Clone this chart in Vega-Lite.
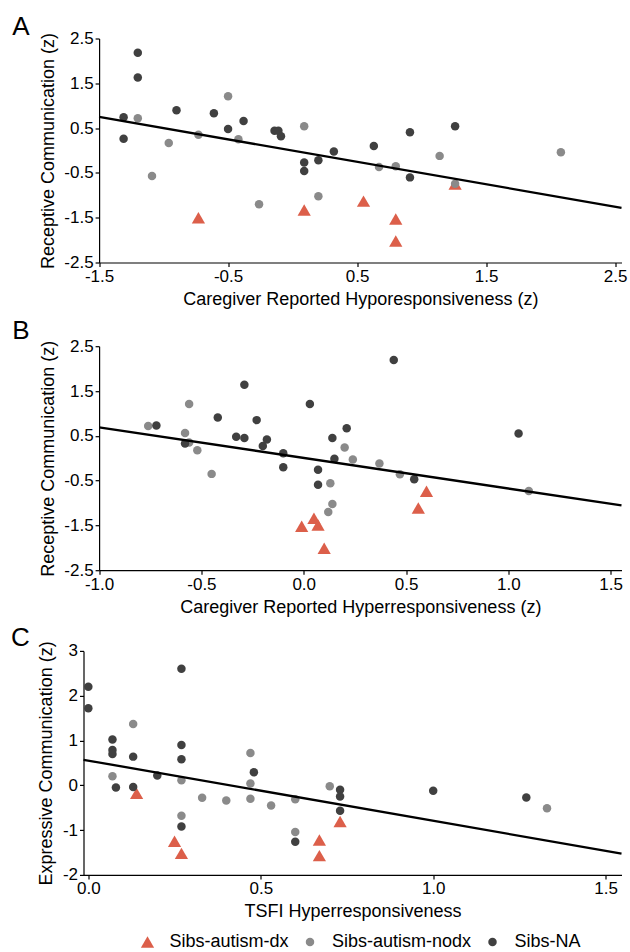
{
  "$schema": "https://vega.github.io/schema/vega-lite/v6.json",
  "padding": {"left": 10.5, "top": 13.5, "right": 0, "bottom": 0},
  "spacing": 8.7,
  "resolve": {"legend": {"color": "independent", "shape": "independent", "size": "independent"}},
  "config": {
    "font": "Liberation Sans",
    "view": {"stroke": null},
    "axis": {"grid": false, "domainColor": "#000", "tickColor": "#000", "labelColor": "#000", "titleColor": "#000", "labelFontSize": 17, "titleFontSize": 18, "titleFontWeight": "normal", "tickSize": 4, "labelPadding": 2, "titlePadding": 6.5, "domainWidth": 1.2, "tickWidth": 1.2, "labelFlush": false, "labelOverlap": false},
    "title": {"fontSize": 26, "fontWeight": "normal", "anchor": "start", "frame": "bounds", "color": "#000"},
    "legend": {"labelFontSize": 18, "labelColor": "#000", "labelOffset": 13, "columnPadding": 11.5, "symbolStrokeWidth": 0}
  },
  "datasets": {
    "pts": [
      {"panel": "A", "group": "Sibs-autism-dx", "x": -0.73, "y": -1.50},
      {"panel": "A", "group": "Sibs-autism-dx", "x": 0.09, "y": -1.33},
      {"panel": "A", "group": "Sibs-autism-dx", "x": 0.55, "y": -1.13},
      {"panel": "A", "group": "Sibs-autism-dx", "x": 0.80, "y": -1.53},
      {"panel": "A", "group": "Sibs-autism-dx", "x": 0.80, "y": -2.02},
      {"panel": "A", "group": "Sibs-autism-dx", "x": 1.26, "y": -0.75},
      {"panel": "A", "group": "Sibs-autism-nodx", "x": -1.20, "y": 0.72},
      {"panel": "A", "group": "Sibs-autism-nodx", "x": -1.09, "y": -0.57},
      {"panel": "A", "group": "Sibs-autism-nodx", "x": -0.96, "y": 0.17},
      {"panel": "A", "group": "Sibs-autism-nodx", "x": -0.73, "y": 0.35},
      {"panel": "A", "group": "Sibs-autism-nodx", "x": -0.50, "y": 1.21},
      {"panel": "A", "group": "Sibs-autism-nodx", "x": -0.42, "y": 0.25},
      {"panel": "A", "group": "Sibs-autism-nodx", "x": -0.26, "y": -1.20},
      {"panel": "A", "group": "Sibs-autism-nodx", "x": 0.09, "y": 0.54},
      {"panel": "A", "group": "Sibs-autism-nodx", "x": 0.20, "y": -1.02},
      {"panel": "A", "group": "Sibs-autism-nodx", "x": 0.67, "y": -0.37},
      {"panel": "A", "group": "Sibs-autism-nodx", "x": 0.80, "y": -0.35},
      {"panel": "A", "group": "Sibs-autism-nodx", "x": 1.14, "y": -0.12},
      {"panel": "A", "group": "Sibs-autism-nodx", "x": 1.26, "y": -0.74},
      {"panel": "A", "group": "Sibs-autism-nodx", "x": 2.08, "y": -0.04},
      {"panel": "A", "group": "Sibs-NA", "x": -1.31, "y": 0.74},
      {"panel": "A", "group": "Sibs-NA", "x": -1.31, "y": 0.26},
      {"panel": "A", "group": "Sibs-NA", "x": -1.20, "y": 2.18},
      {"panel": "A", "group": "Sibs-NA", "x": -1.20, "y": 1.63},
      {"panel": "A", "group": "Sibs-NA", "x": -0.90, "y": 0.90},
      {"panel": "A", "group": "Sibs-NA", "x": -0.61, "y": 0.83},
      {"panel": "A", "group": "Sibs-NA", "x": -0.50, "y": 0.48},
      {"panel": "A", "group": "Sibs-NA", "x": -0.38, "y": 0.66},
      {"panel": "A", "group": "Sibs-NA", "x": -0.14, "y": 0.44},
      {"panel": "A", "group": "Sibs-NA", "x": -0.11, "y": 0.44},
      {"panel": "A", "group": "Sibs-NA", "x": -0.09, "y": 0.32},
      {"panel": "A", "group": "Sibs-NA", "x": 0.09, "y": -0.27},
      {"panel": "A", "group": "Sibs-NA", "x": 0.09, "y": -0.46},
      {"panel": "A", "group": "Sibs-NA", "x": 0.20, "y": -0.22},
      {"panel": "A", "group": "Sibs-NA", "x": 0.32, "y": -0.02},
      {"panel": "A", "group": "Sibs-NA", "x": 0.63, "y": 0.10},
      {"panel": "A", "group": "Sibs-NA", "x": 0.91, "y": 0.41},
      {"panel": "A", "group": "Sibs-NA", "x": 0.91, "y": -0.60},
      {"panel": "A", "group": "Sibs-NA", "x": 1.26, "y": 0.54},

      {"panel": "B", "group": "Sibs-autism-dx", "x": -0.01, "y": -1.52},
      {"panel": "B", "group": "Sibs-autism-dx", "x": 0.05, "y": -1.34},
      {"panel": "B", "group": "Sibs-autism-dx", "x": 0.07, "y": -1.49},
      {"panel": "B", "group": "Sibs-autism-dx", "x": 0.10, "y": -2.01},
      {"panel": "B", "group": "Sibs-autism-dx", "x": 0.56, "y": -1.11},
      {"panel": "B", "group": "Sibs-autism-dx", "x": 0.60, "y": -0.74},
      {"panel": "B", "group": "Sibs-autism-nodx", "x": -0.76, "y": 0.72},
      {"panel": "B", "group": "Sibs-autism-nodx", "x": -0.56, "y": 1.21},
      {"panel": "B", "group": "Sibs-autism-nodx", "x": -0.58, "y": 0.56},
      {"panel": "B", "group": "Sibs-autism-nodx", "x": -0.56, "y": 0.35},
      {"panel": "B", "group": "Sibs-autism-nodx", "x": -0.52, "y": 0.18},
      {"panel": "B", "group": "Sibs-autism-nodx", "x": -0.45, "y": -0.35},
      {"panel": "B", "group": "Sibs-autism-nodx", "x": 0.20, "y": 0.24},
      {"panel": "B", "group": "Sibs-autism-nodx", "x": 0.24, "y": -0.03},
      {"panel": "B", "group": "Sibs-autism-nodx", "x": 0.13, "y": -0.56},
      {"panel": "B", "group": "Sibs-autism-nodx", "x": 0.14, "y": -1.02},
      {"panel": "B", "group": "Sibs-autism-nodx", "x": 0.12, "y": -1.20},
      {"panel": "B", "group": "Sibs-autism-nodx", "x": 0.37, "y": -0.12},
      {"panel": "B", "group": "Sibs-autism-nodx", "x": 0.47, "y": -0.36},
      {"panel": "B", "group": "Sibs-autism-nodx", "x": 1.10, "y": -0.73},
      {"panel": "B", "group": "Sibs-NA", "x": -0.72, "y": 0.73},
      {"panel": "B", "group": "Sibs-NA", "x": -0.58, "y": 0.33},
      {"panel": "B", "group": "Sibs-NA", "x": -0.42, "y": 0.91},
      {"panel": "B", "group": "Sibs-NA", "x": -0.33, "y": 0.48},
      {"panel": "B", "group": "Sibs-NA", "x": -0.29, "y": 0.45},
      {"panel": "B", "group": "Sibs-NA", "x": -0.29, "y": 1.64},
      {"panel": "B", "group": "Sibs-NA", "x": -0.23, "y": 0.85},
      {"panel": "B", "group": "Sibs-NA", "x": -0.18, "y": 0.42},
      {"panel": "B", "group": "Sibs-NA", "x": -0.20, "y": 0.27},
      {"panel": "B", "group": "Sibs-NA", "x": -0.10, "y": 0.11},
      {"panel": "B", "group": "Sibs-NA", "x": -0.10, "y": -0.20},
      {"panel": "B", "group": "Sibs-NA", "x": 0.03, "y": 1.21},
      {"panel": "B", "group": "Sibs-NA", "x": 0.07, "y": -0.26},
      {"panel": "B", "group": "Sibs-NA", "x": 0.07, "y": -0.59},
      {"panel": "B", "group": "Sibs-NA", "x": 0.14, "y": 0.45},
      {"panel": "B", "group": "Sibs-NA", "x": 0.15, "y": -0.01},
      {"panel": "B", "group": "Sibs-NA", "x": 0.21, "y": 0.67},
      {"panel": "B", "group": "Sibs-NA", "x": 0.44, "y": 2.19},
      {"panel": "B", "group": "Sibs-NA", "x": 0.54, "y": -0.47},
      {"panel": "B", "group": "Sibs-NA", "x": 1.05, "y": 0.55},

      {"panel": "C", "group": "Sibs-autism-dx", "x": 0.14, "y": -0.18},
      {"panel": "C", "group": "Sibs-autism-dx", "x": 0.25, "y": -1.25},
      {"panel": "C", "group": "Sibs-autism-dx", "x": 0.27, "y": -1.52},
      {"panel": "C", "group": "Sibs-autism-dx", "x": 0.67, "y": -1.22},
      {"panel": "C", "group": "Sibs-autism-dx", "x": 0.67, "y": -1.57},
      {"panel": "C", "group": "Sibs-autism-dx", "x": 0.73, "y": -0.81},
      {"panel": "C", "group": "Sibs-autism-nodx", "x": 0.13, "y": 1.37},
      {"panel": "C", "group": "Sibs-autism-nodx", "x": 0.07, "y": 0.20},
      {"panel": "C", "group": "Sibs-autism-nodx", "x": 0.27, "y": 0.11},
      {"panel": "C", "group": "Sibs-autism-nodx", "x": 0.27, "y": -0.68},
      {"panel": "C", "group": "Sibs-autism-nodx", "x": 0.33, "y": -0.28},
      {"panel": "C", "group": "Sibs-autism-nodx", "x": 0.40, "y": -0.34},
      {"panel": "C", "group": "Sibs-autism-nodx", "x": 0.47, "y": 0.72},
      {"panel": "C", "group": "Sibs-autism-nodx", "x": 0.47, "y": 0.04},
      {"panel": "C", "group": "Sibs-autism-nodx", "x": 0.47, "y": -0.30},
      {"panel": "C", "group": "Sibs-autism-nodx", "x": 0.53, "y": -0.45},
      {"panel": "C", "group": "Sibs-autism-nodx", "x": 0.60, "y": -0.31},
      {"panel": "C", "group": "Sibs-autism-nodx", "x": 0.60, "y": -1.04},
      {"panel": "C", "group": "Sibs-autism-nodx", "x": 0.70, "y": -0.02},
      {"panel": "C", "group": "Sibs-autism-nodx", "x": 1.33, "y": -0.51},
      {"panel": "C", "group": "Sibs-NA", "x": 0.0, "y": 2.20},
      {"panel": "C", "group": "Sibs-NA", "x": 0.0, "y": 1.72},
      {"panel": "C", "group": "Sibs-NA", "x": 0.07, "y": 1.02},
      {"panel": "C", "group": "Sibs-NA", "x": 0.07, "y": 0.79},
      {"panel": "C", "group": "Sibs-NA", "x": 0.07, "y": 0.70},
      {"panel": "C", "group": "Sibs-NA", "x": 0.08, "y": -0.05},
      {"panel": "C", "group": "Sibs-NA", "x": 0.13, "y": 0.64},
      {"panel": "C", "group": "Sibs-NA", "x": 0.13, "y": -0.04},
      {"panel": "C", "group": "Sibs-NA", "x": 0.20, "y": 0.22},
      {"panel": "C", "group": "Sibs-NA", "x": 0.27, "y": 2.60},
      {"panel": "C", "group": "Sibs-NA", "x": 0.27, "y": 0.90},
      {"panel": "C", "group": "Sibs-NA", "x": 0.27, "y": 0.58},
      {"panel": "C", "group": "Sibs-NA", "x": 0.27, "y": -0.92},
      {"panel": "C", "group": "Sibs-NA", "x": 0.48, "y": 0.29},
      {"panel": "C", "group": "Sibs-NA", "x": 0.60, "y": -1.26},
      {"panel": "C", "group": "Sibs-NA", "x": 0.73, "y": -0.10},
      {"panel": "C", "group": "Sibs-NA", "x": 0.73, "y": -0.25},
      {"panel": "C", "group": "Sibs-NA", "x": 0.73, "y": -0.57},
      {"panel": "C", "group": "Sibs-NA", "x": 1.00, "y": -0.12},
      {"panel": "C", "group": "Sibs-NA", "x": 1.27, "y": -0.27}
    ],
    "fit": [
      {"panel": "A", "x": -1.5, "y": 0.75},
      {"panel": "A", "x": 2.55, "y": -1.28},
      {"panel": "B", "x": -1.0, "y": 0.69},
      {"panel": "B", "x": 1.553, "y": -1.055},
      {"panel": "C", "x": -0.014, "y": 0.57},
      {"panel": "C", "x": 1.546, "y": -1.525}
    ]
  },
  "vconcat": [
    {
      "width": 538, "height": 224,
      "title": {"text": "A", "dx": -27, "offset": -10.5},
      "layer": [
        {
          "data": {"name": "pts"},
          "transform": [{"filter": "datum.panel === 'A'"}],
          "mark": {"type": "point", "filled": true, "opacity": 1},
          "encoding": {
            "x": {"field": "x", "type": "quantitative", "scale": {"domain": [-1.5, 2.55], "range": [15.6, 538], "nice": false, "zero": false}, "axis": {"values": [-1.5, -0.5, 0.5, 1.5, 2.5], "labelExpr": "replace(format(datum.value, '.1f'), '\u2212', '-')", "title": "Caregiver Reported Hyporesponsiveness (z)", "titlePadding": 6}},
            "y": {"field": "y", "type": "quantitative", "scale": {"domain": [-2.5, 2.5], "nice": false, "zero": false}, "axis": {"offset": -15.6, "values": [-2.5, -1.5, -0.5, 0.5, 1.5, 2.5], "labelExpr": "replace(format(datum.value, '.1f'), '\u2212', '-')", "title": "Receptive Communication (z)"}},
            "color": {"field": "group", "type": "nominal", "scale": {"domain": ["Sibs-autism-dx", "Sibs-autism-nodx", "Sibs-NA"], "range": ["#DC5F4A", "#8A8A8A", "#404040"]}, "legend": null},
            "shape": {"field": "group", "type": "nominal", "scale": {"domain": ["Sibs-autism-dx", "Sibs-autism-nodx", "Sibs-NA"], "range": ["triangle-up", "circle", "circle"]}, "legend": null},
            "size": {"field": "group", "type": "nominal", "scale": {"type": "ordinal", "domain": ["Sibs-autism-dx", "Sibs-autism-nodx", "Sibs-NA"], "range": [175, 72, 72]}, "legend": null}
          }
        },
        {
          "data": {"name": "fit"},
          "transform": [{"filter": "datum.panel === 'A'"}],
          "mark": {"type": "line", "color": "#000", "strokeWidth": 2.3},
          "encoding": {
            "x": {"field": "x", "type": "quantitative"},
            "y": {"field": "y", "type": "quantitative"}
          }
        }
      ]
    },
    {
      "width": 538, "height": 224,
      "title": {"text": "B", "dx": -27, "offset": -6.6},
      "layer": [
        {
          "data": {"name": "pts"},
          "transform": [{"filter": "datum.panel === 'B'"}],
          "mark": {"type": "point", "filled": true, "opacity": 1},
          "encoding": {
            "x": {"field": "x", "type": "quantitative", "scale": {"domain": [-1.0, 1.553], "range": [15.6, 538], "nice": false, "zero": false}, "axis": {"values": [-1.0, -0.5, 0.0, 0.5, 1.0, 1.5], "labelExpr": "replace(format(datum.value, '.1f'), '\u2212', '-')", "title": "Caregiver Reported Hyperresponsiveness (z)", "titlePadding": 6}},
            "y": {"field": "y", "type": "quantitative", "scale": {"domain": [-2.5, 2.5], "nice": false, "zero": false}, "axis": {"offset": -15.6, "values": [-2.5, -1.5, -0.5, 0.5, 1.5, 2.5], "labelExpr": "replace(format(datum.value, '.1f'), '\u2212', '-')", "title": "Receptive Communication (z)"}},
            "color": {"field": "group", "type": "nominal", "scale": {"domain": ["Sibs-autism-dx", "Sibs-autism-nodx", "Sibs-NA"], "range": ["#DC5F4A", "#8A8A8A", "#404040"]}, "legend": null},
            "shape": {"field": "group", "type": "nominal", "scale": {"domain": ["Sibs-autism-dx", "Sibs-autism-nodx", "Sibs-NA"], "range": ["triangle-up", "circle", "circle"]}, "legend": null},
            "size": {"field": "group", "type": "nominal", "scale": {"type": "ordinal", "domain": ["Sibs-autism-dx", "Sibs-autism-nodx", "Sibs-NA"], "range": [175, 72, 72]}, "legend": null}
          }
        },
        {
          "data": {"name": "fit"},
          "transform": [{"filter": "datum.panel === 'B'"}],
          "mark": {"type": "line", "color": "#000", "strokeWidth": 2.3},
          "encoding": {
            "x": {"field": "x", "type": "quantitative"},
            "y": {"field": "y", "type": "quantitative"}
          }
        }
      ]
    },
    {
      "width": 538, "height": 224,
      "title": {"text": "C", "dx": -27, "offset": -10.1},
      "layer": [
        {
          "data": {"name": "pts"},
          "transform": [{"filter": "datum.panel === 'C'"}],
          "mark": {"type": "point", "filled": true, "opacity": 1},
          "encoding": {
            "x": {"field": "x", "type": "quantitative", "scale": {"domain": [-0.014, 1.546], "nice": false, "zero": false}, "axis": {"values": [0.0, 0.5, 1.0, 1.5], "format": ".1f", "title": "TSFI Hyperresponsiveness", "titlePadding": 6}},
            "y": {"field": "y", "type": "quantitative", "scale": {"domain": [-2, 3], "nice": false, "zero": false}, "axis": {"values": [-2, -1, 0, 1, 2, 3], "labelExpr": "replace(format(datum.value, 'd'), '\u2212', '-')", "title": "Expressive Communication (z)"}},
            "color": {"field": "group", "type": "nominal", "scale": {"domain": ["Sibs-autism-dx", "Sibs-autism-nodx", "Sibs-NA"], "range": ["#DC5F4A", "#8A8A8A", "#404040"]}, "legend": {"orient": "none", "legendX": 55, "legendY": 282, "direction": "horizontal", "title": null}},
            "shape": {"field": "group", "type": "nominal", "scale": {"domain": ["Sibs-autism-dx", "Sibs-autism-nodx", "Sibs-NA"], "range": ["triangle-up", "circle", "circle"]}, "legend": {"orient": "none", "legendX": 55, "legendY": 282, "direction": "horizontal", "title": null}},
            "size": {"field": "group", "type": "nominal", "scale": {"type": "ordinal", "domain": ["Sibs-autism-dx", "Sibs-autism-nodx", "Sibs-NA"], "range": [175, 72, 72]}, "legend": {"orient": "none", "legendX": 55, "legendY": 282, "direction": "horizontal", "title": null}}
          }
        },
        {
          "data": {"name": "fit"},
          "transform": [{"filter": "datum.panel === 'C'"}],
          "mark": {"type": "line", "color": "#000", "strokeWidth": 2.3},
          "encoding": {
            "x": {"field": "x", "type": "quantitative"},
            "y": {"field": "y", "type": "quantitative"}
          }
        }
      ]
    }
  ]
}
